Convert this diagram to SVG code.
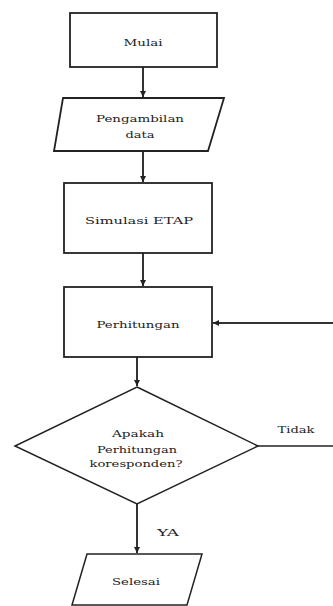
<svg xmlns="http://www.w3.org/2000/svg" width="333" height="606" viewBox="0 0 333 606">
<defs>
<marker id="arr" viewBox="0 0 10 10" refX="10" refY="5" markerWidth="3" markerHeight="3" orient="auto" markerUnits="strokeWidth">
<path d="M0,0 L10,5 L0,10 z" fill="#222"/>
</marker>
<style>
.shape{fill:#fff;stroke:#222;stroke-width:1.8}
.lbl{font-family:'DejaVu Serif','Liberation Serif',serif;font-size:10px;fill:#222;text-anchor:middle}
.conn{stroke:#333;stroke-width:2;fill:none}
.thin{stroke:#222;stroke-width:1.5;fill:none}
</style>
</defs>
<rect width="333" height="606" fill="#fff"/>
<g id="connectors">
<line class="conn" x1="143" y1="67" x2="143" y2="97" marker-end="url(#arr)"/>
<line class="conn" x1="143" y1="151" x2="143" y2="182" marker-end="url(#arr)"/>
<line class="conn" x1="143" y1="253" x2="143" y2="286" marker-end="url(#arr)"/>
<line class="conn" x1="333" y1="323" x2="213" y2="323" marker-end="url(#arr)"/>
<line class="conn" x1="137" y1="357" x2="137" y2="386" marker-end="url(#arr)"/>
<line class="thin" x1="258" y1="446" x2="333" y2="446"/>
<line class="conn" x1="137" y1="504" x2="137" y2="553" marker-end="url(#arr)"/>
<text class="lbl" x="296" y="433" textLength="37" lengthAdjust="spacingAndGlyphs">Tidak</text>
<text class="lbl" x="168" y="536" textLength="22" lengthAdjust="spacingAndGlyphs">YA</text>
</g>
<g id="mulai">
<rect class="shape" x="70" y="13" width="147" height="54"/>
<text class="lbl" x="143" y="46" textLength="39" lengthAdjust="spacingAndGlyphs">Mulai</text>
</g>
<g id="pengambilan">
<polygon class="shape" points="63,98 224,98 208,151 54,151"/>
<text class="lbl" x="140" y="122" textLength="88" lengthAdjust="spacingAndGlyphs">Pengambilan</text>
<text class="lbl" x="140" y="138" textLength="29" lengthAdjust="spacingAndGlyphs">data</text>
</g>
<g id="simulasi">
<rect class="shape" x="64" y="183" width="148" height="70"/>
<text class="lbl" x="139" y="224" textLength="108" lengthAdjust="spacingAndGlyphs">Simulasi ETAP</text>
</g>
<g id="perhitungan">
<rect class="shape" x="64" y="287" width="148" height="70"/>
<text class="lbl" x="138" y="328" textLength="83" lengthAdjust="spacingAndGlyphs">Perhitungan</text>
</g>
<g id="keputusan">
<polygon class="shape" style="stroke-width:1.5" points="137,387 258,446 137,504 15,446"/>
<text class="lbl" x="138" y="437" textLength="52" lengthAdjust="spacingAndGlyphs">Apakah</text>
<text class="lbl" x="137" y="453" textLength="80" lengthAdjust="spacingAndGlyphs">Perhitungan</text>
<text class="lbl" x="136" y="467" textLength="93" lengthAdjust="spacingAndGlyphs">koresponden?</text>
</g>
<g id="selesai">
<polygon class="shape" style="stroke-width:1.5" points="87,554 202,554 187,605 72,605"/>
<text class="lbl" x="136" y="585" textLength="48" lengthAdjust="spacingAndGlyphs">Selesai</text>
</g>
</svg>
